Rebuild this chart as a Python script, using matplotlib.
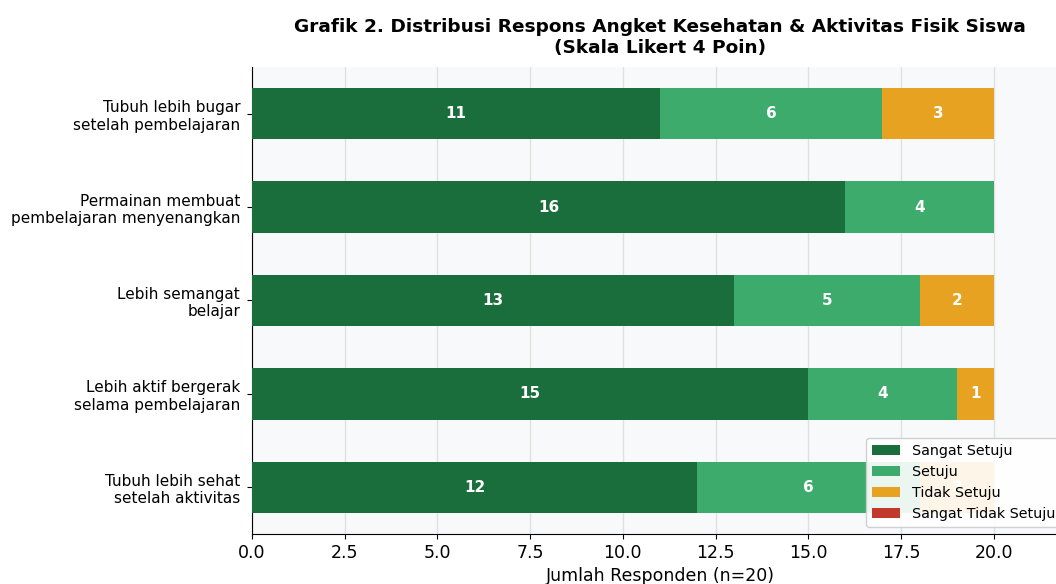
import numpy as np
import matplotlib
matplotlib.use("Agg")
import matplotlib.pyplot as plt

# data
pernyataan = [
    "Tubuh lebih bugar\nsetelah pembelajaran",
    "Permainan membuat\npembelajaran menyenangkan",
    "Lebih semangat\nbelajar",
    "Lebih aktif bergerak\nselama pembelajaran",
    "Tubuh lebih sehat\nsetelah aktivitas",
]
sangat_setuju = [11, 16, 13, 15, 12]
setuju = [6, 4, 5, 4, 6]
tidak_setuju = [3, 0, 2, 1, 2]
sangat_tidak_setuju = [0, 0, 0, 0, 0]

kategori = ["Sangat Setuju", "Setuju", "Tidak Setuju", "Sangat Tidak Setuju"]
warna = ["#1a6e3c", "#3dab6b", "#e8a222", "#c0392b"]

fig = plt.figure(figsize=(10.56, 5.84), dpi=100)
ax = fig.add_axes([0.2386, 0.0856, 0.7727, 0.7997])
ax.set_facecolor("#f8f9fa")

y = np.arange(len(pernyataan))
left = np.zeros(len(pernyataan))
for nama, vals, c in zip(kategori, [sangat_setuju, setuju, tidak_setuju, sangat_tidak_setuju], warna):
    vals = np.array(vals, dtype=float)
    bars = ax.barh(y, vals, left=left, height=0.55, color=c, label=nama, zorder=3)
    for b, v in zip(bars, vals):
        if v > 0:
            ax.text(b.get_x() + b.get_width() / 2, b.get_y() + b.get_height() / 2,
                    f"{int(v)}", ha="center", va="center", color="white",
                    fontsize=11, fontweight="bold", zorder=4)
    left += vals

ax.set_yticks(y)
ax.set_yticklabels(pernyataan, fontsize=11)
ax.set_ylim(4.5, -0.5)
ax.set_xlim(0, 22)
ax.set_xticks(np.arange(0, 22, 2.5))
ax.tick_params(axis="x", labelsize=12.5)
ax.tick_params(axis="y", pad=5)
ax.set_xlabel("Jumlah Responden (n=20)", fontsize=12.5)
ax.grid(axis="x", color="#e0e0e0", linewidth=1, zorder=0)
ax.spines["top"].set_visible(False)
ax.spines["right"].set_visible(False)

ax.set_title("Grafik 2. Distribusi Respons Angket Kesehatan & Aktivitas Fisik Siswa\n(Skala Likert 4 Poin)",
             fontsize=13.3, fontweight="bold", pad=10)
ax.legend(loc="lower right", fontsize=10.3, framealpha=0.9)

fig.savefig("out.png", dpi=100)
